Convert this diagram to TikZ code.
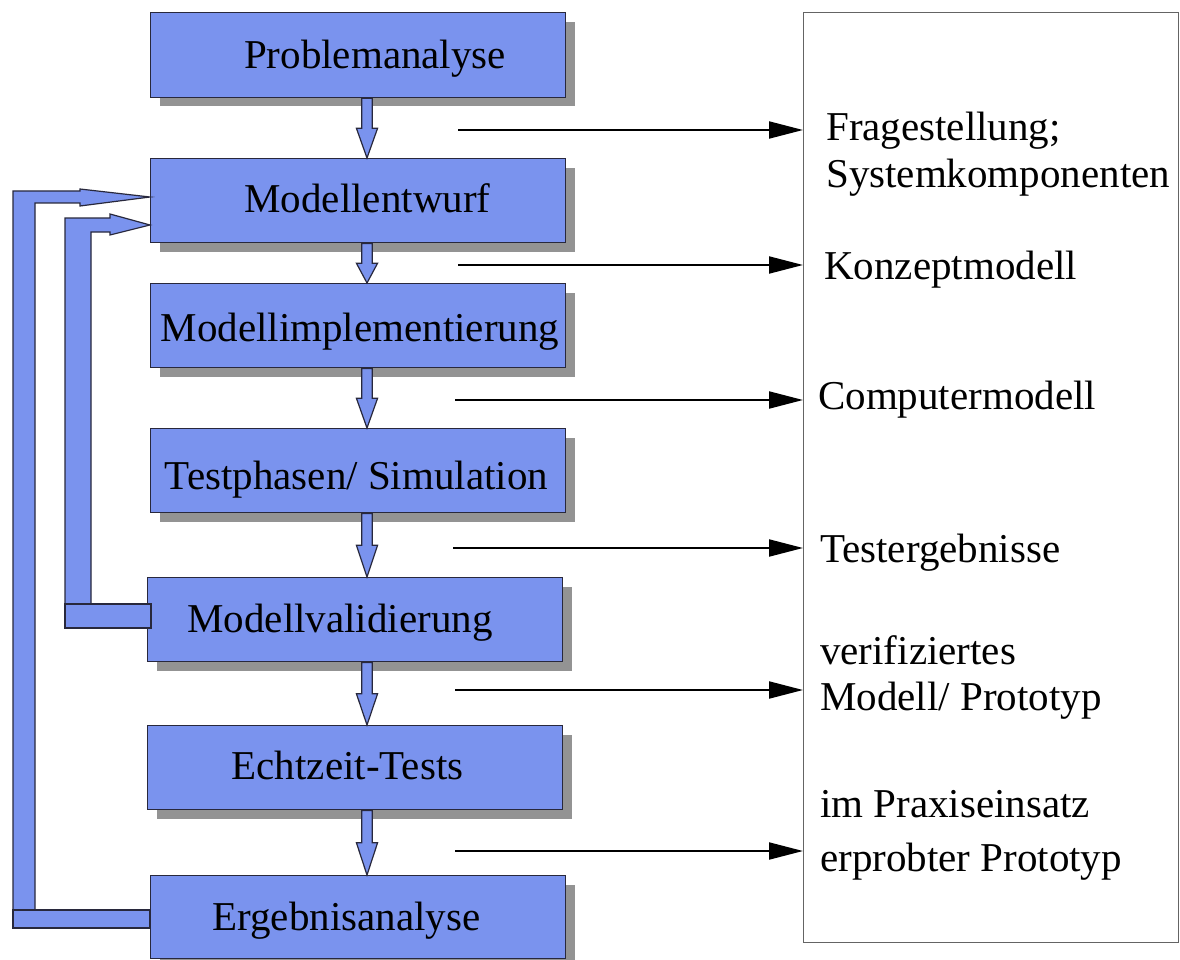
\documentclass[tikz,border=0pt]{standalone}
\usepackage{fontspec}
\setmainfont{Liberation Serif}
\usetikzlibrary{calc,arrows.meta}

\definecolor{boxblue}{RGB}{122,147,238}
\definecolor{shadowgray}{RGB}{147,147,147}
\definecolor{edgedark}{RGB}{40,40,60}
\definecolor{framegray}{RGB}{100,100,100}

\tikzset{
  stagebox/.style={draw=edgedark, line width=1.4pt, fill=boxblue,
    minimum width=415, minimum height=84, anchor=north west, inner sep=0pt},
  shadowbox/.style={fill=shadowgray},
  caption/.style={inner sep=0pt, anchor=base},
  outtext/.style={inner sep=0pt, anchor=base west},
  blockarrow/.style={draw=edgedark, line width=1.2pt, fill=boxblue, line join=miter},
  outarrow/.style={draw=black, line width=2pt,
    -{Triangle[length=34pt,width=17pt]}},
  resultframe/.style={draw=framegray, line width=1.4pt, fill=white,
    minimum width=375, minimum height=930, anchor=north west, inner sep=0pt}
}

% vertical block arrow between two stages, shaft on the line x = ax
\newcommand\stagearrow[2]{%
  \path[blockarrow] let \p1=(#1.south -| ax), \p2=(#2.north -| ax),
    \n1={(\y1+\y2)/2} in
    (\x1-5.2pt,\y1) -- (\x1+5.2pt,\y1) -- (\x1+5.2pt,\n1) -- (\x1+10.6pt,\n1)
    -- (\x2,\y2) -- (\x1-10.6pt,\n1) -- (\x1-5.2pt,\n1) -- cycle;}

\begin{document}
\begin{tikzpicture}[x=1pt,y=-1pt]
\fontsize{41}{47}\selectfont
\clip (0,0) rectangle (1180,960);
\fill[white] (0,0) rectangle (1180,960);

% result frame on the right
\node[resultframe] (rb) at (803,12) {};

% stage boxes with their drop shadows
\foreach \x/\y/\n in {150/12/b1,150/158/b2,150/283/b3,150/428/b4,147/577/b5,147/725/b6,150/875/b7}{
  \fill[shadowgray] (\x+10,\y+10) rectangle ++(415,84);
}
\node[stagebox, minimum height=85] (b1) at (150,12) {};
\node[stagebox] (b2) at (150,158) {};
\node[stagebox] (b3) at (150,283) {};
\node[stagebox] (b4) at (150,428) {};
\node[stagebox] (b5) at (147,577) {};
\node[stagebox] (b6) at (147,725) {};
\node[stagebox, minimum height=83] (b7) at (150,875) {};

\node[caption] (t1) at (375,69) {Problemanalyse};
\node[caption] (t2) at (367.5,212) {Modellentwurf};
\node[caption] (t3) at (360,341) {Modellimplementierung};
\node[caption] (t4) at (356.5,489) {Testphasen/ Simulation};
\node[caption] (t5) at (340,632) {Modellvalidierung};
\node[caption] (t6) at (347.5,779) {Echtzeit-Tests};
\node[caption] (t7) at (346.5,930) {Ergebnisanalyse};

% downward block arrows between consecutive stages
\coordinate (ax) at (367,0);
\stagearrow{b1}{b2}
\stagearrow{b2}{b3}
\stagearrow{b3}{b4}
\stagearrow{b4}{b5}
\stagearrow{b5}{b6}
\stagearrow{b6}{b7}

% feedback from Ergebnisanalyse back to Modellentwurf
\path[blockarrow] (13,910) -- (13,191) -- (80,191) -- (80,189)
  -- (b2.west |- 0,197) -- (80,206) -- (80,203) -- (35,203) -- (35,910);
\path[blockarrow] (13,910) rectangle (b7.west |- 0,928);

% feedback from Modellvalidierung back to Modellentwurf
\path[blockarrow] (65,604) -- (65,218) -- (110,218) -- (110,214)
  -- (b2.west |- 0,225) -- (110,235) -- (110,232) -- (91,232) -- (91,604);
\path[blockarrow] (65,604) rectangle (151,628);

% outputs of each stage
\coordinate (s1) at (458,130);
\coordinate (s2) at (458,265);
\coordinate (s3) at (455,400);
\coordinate (s4) at (453,548);
\coordinate (s5) at (455,690);
\coordinate (s6) at (455,851);
\foreach \s in {s1,s2,s3,s4,s5,s6}{
  \draw[outarrow] (\s) -- (\s -| rb.west);
}

\node[outtext] (r1a) at (826,141) {Fragestellung;};
\node[outtext] (r1b) at (826,188) {Systemkomponenten};
\node[outtext] (r2) at (824,279) {Konzeptmodell};
\node[outtext] (r3) at (818,409) {Computermodell};
\node[outtext] (r4) at (820,562) {Testergebnisse};
\node[outtext] (r5a) at (820,664) {verifiziertes};
\node[outtext] (r5b) at (820,710) {Modell/ Prototyp};
\node[outtext] (r6a) at (820,817) {im Praxiseinsatz};
\node[outtext] (r6b) at (820,871) {erprobter Prototyp};
\end{tikzpicture}
\end{document}
